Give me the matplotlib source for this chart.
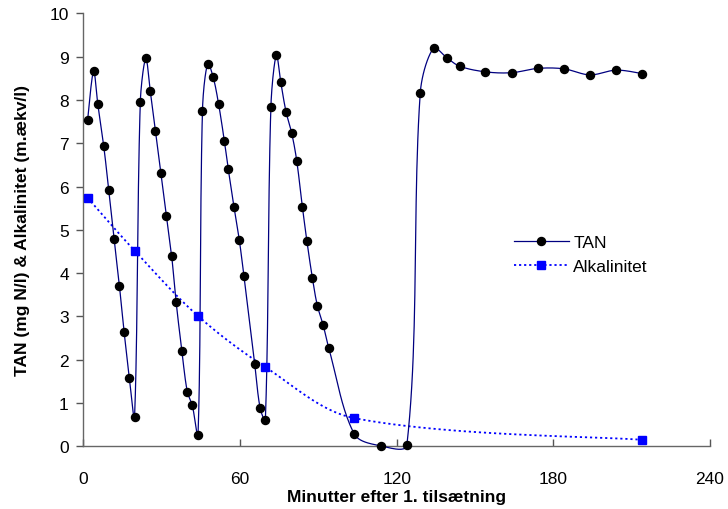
import numpy as np
import matplotlib
matplotlib.use("Agg")
import matplotlib.pyplot as plt
from matplotlib.lines import Line2D

plt.rcParams['font.family'] = ['Liberation Sans', 'DejaVu Sans']

# TAN data (minutes, mg N/l)
tan_t = [1.6, 3.9, 5.5, 7.8, 9.7, 11.7, 13.8, 15.6, 17.6, 19.6,
         21.8, 23.9, 25.6, 27.6, 29.7, 31.8, 33.8, 35.5, 37.7, 39.8, 41.7, 43.9,
         45.6, 47.6, 49.7, 51.8, 54.0, 55.5, 57.7, 59.7, 61.5, 65.6, 67.7, 69.7,
         71.8, 73.9, 75.6, 77.6, 79.8, 81.7, 83.9, 85.6, 87.7, 89.6, 91.8, 94.0,
         103.8, 113.9, 123.9, 129.0, 134.1, 139.1, 144.1, 154.0, 164.0, 174.1,
         184.0, 194.0, 204.1, 214.0]
tan_v = [7.53, 8.66, 7.91, 6.93, 5.92, 4.80, 3.70, 2.64, 1.58, 0.68,
         7.96, 8.96, 8.21, 7.28, 6.31, 5.32, 4.40, 3.34, 2.21, 1.26, 0.95, 0.25,
         7.75, 8.84, 8.53, 7.90, 7.05, 6.40, 5.52, 4.77, 3.93, 1.91, 0.88, 0.61,
         7.83, 9.04, 8.41, 7.73, 7.23, 6.60, 5.52, 4.74, 3.89, 3.25, 2.81, 2.26,
         0.28, 0.01, 0.03, 8.15, 9.20, 8.98, 8.78, 8.65, 8.63, 8.73,
         8.72, 8.58, 8.69, 8.61]

# Alkalinitet data (minutes, m.aekv/l)
alk_t = [1.6, 19.6, 43.9, 69.7, 103.8, 214.0]
alk_v = [5.74, 4.52, 3.01, 1.83, 0.65, 0.15]

x_ticks = [0, 60, 120, 180, 240]
y_ticks = list(range(0, 11))

W, H = 728, 510
fig = plt.figure(figsize=(W / 100, H / 100), dpi=100)
ax = fig.add_axes([83.4 / W, 1 - 447.3 / H, (710 - 83.4) / W, (447.3 - 14.4) / H])
ax.set_xlim(0, 240)
ax.set_ylim(0, 10)


def smooth(xs, ys, n=24):
    """Smoothed line through the points (cubic Bezier, chord-weighted
    Catmull-Rom tangents computed in display space)."""
    P = ax.transData.transform(np.column_stack([xs, ys]).astype(float))
    m = len(P)
    d = np.hypot(*np.diff(P, axis=0).T)
    out = [P[0]]
    for i in range(m - 1):
        p1, p2 = P[i], P[i + 1]
        if i > 0:
            T1 = P[i + 1] - P[i - 1]
            w1 = d[i] / (d[i - 1] + d[i]) / 3.0
        else:
            T1 = P[1] - P[0]
            w1 = 1 / 6.0
        if i + 2 < m:
            T2 = P[i + 2] - P[i]
            w2 = d[i] / (d[i] + d[i + 1]) / 3.0
        else:
            T2 = P[i + 1] - P[i]
            w2 = 1 / 6.0
        c1 = p1 + T1 * w1
        c2 = p2 - T2 * w2
        s = np.linspace(0, 1, n)[1:, None]
        seg = ((1 - s) ** 3) * p1 + 3 * ((1 - s) ** 2) * s * c1 + 3 * (1 - s) * s ** 2 * c2 + s ** 3 * p2
        out.extend(seg)
    out = ax.transData.inverted().transform(np.array(out))
    return out[:, 0], out[:, 1]


navy = '#000080'
blue = '#0000FF'
fs = 12.5
dots = (0, (1.2, 1.6))

sx, sy = smooth(tan_t, tan_v)
ax.plot(sx, sy, color=navy, lw=0.9, zorder=3, clip_on=False)
ax.plot(tan_t, tan_v, ls='none', marker='o', ms=5.8, mfc='black', mec='black', zorder=4, clip_on=False)

bx, by = smooth(alk_t, alk_v)
ax.plot(bx, by, color=blue, lw=1.3, ls=dots, zorder=2)
ax.plot(alk_t, alk_v, ls='none', marker='s', ms=5.8, mfc=blue, mec=blue, zorder=5, clip_on=False)

ax.set_xticks(x_ticks)
ax.set_yticks(y_ticks)
ax.tick_params(axis='x', direction='in', length=5, width=1, colors='#555555',
               labelcolor='black', labelsize=fs, pad=17.5)
ax.tick_params(axis='y', direction='out', length=5, width=1, colors='#555555',
               labelcolor='black', labelsize=fs, pad=5.5)
for s in ['top', 'right']:
    ax.spines[s].set_visible(False)
for s in ['left', 'bottom']:
    ax.spines[s].set_color('#666666')
    ax.spines[s].set_linewidth(1.0)

ax.set_xlabel('Minutter efter 1. tilsætning', fontsize=fs, fontweight='bold', va='center')
ax.xaxis.set_label_coords(0.5, (447.3 - 498) / (447.3 - 14.4))
ax.set_ylabel('TAN (mg N/l) & Alkalinitet (m.ækv/l)', fontsize=fs, fontweight='bold', va='center')
ax.yaxis.set_label_coords((23 - 83.4) / (710 - 83.4), 0.5)

handles = [
    Line2D([], [], color=navy, lw=0.9, marker='o', ms=5.8, mfc='black', mec='black'),
    Line2D([], [], color=blue, lw=1.3, ls=dots, marker='s', ms=5.8, mfc=blue, mec=blue),
]
fig.legend(handles, ['TAN', 'Alkalinitet'], loc='center left',
           bbox_to_anchor=(514 / W, 1 - 255.5 / H), frameon=False, fontsize=fs,
           handlelength=3.16, handletextpad=0.25, labelspacing=0.55,
           borderpad=0, borderaxespad=0)

fig.savefig('out.png', dpi=100)
